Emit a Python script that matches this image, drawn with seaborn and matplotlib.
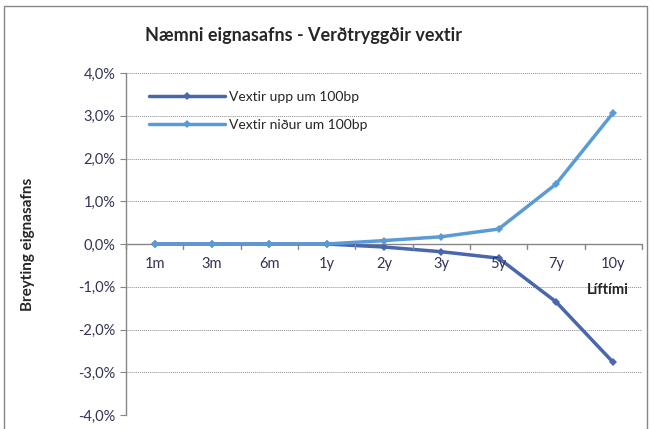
import pandas as pd
import matplotlib
matplotlib.use('Agg')
import matplotlib.pyplot as plt
import seaborn as sns
from matplotlib.ticker import FuncFormatter

categories = ['1m', '3m', '6m', '1y', '2y', '3y', '5y', '7y', '10y']
vextir_upp = [0.0, 0.0, 0.0, 0.0, -0.07, -0.18, -0.33, -1.35, -2.77]
vextir_nidur = [0.0, 0.0, 0.0, 0.0, 0.08, 0.17, 0.35, 1.40, 3.07]
series_names = ['Vextir upp um 100bp', 'Vextir niður um 100bp']

data = pd.DataFrame({
    'pos': list(range(len(categories))) * 2,
    'value': vextir_upp + vextir_nidur,
    'series': [series_names[0]] * len(categories) + [series_names[1]] * len(categories),
})

sns.set_style('white')
plt.rcParams['font.family'] = ['Lato', 'DejaVu Sans']

fig = plt.figure(figsize=(6.51, 4.29), dpi=100)
ax = fig.add_axes([0.1935, 0.0326, 0.7925, 0.7972])

sns.lineplot(data=data, x='pos', y='value', hue='series', palette=['#4A66AC', '#5B9BD5'],
             marker='D', markersize=4, markeredgewidth=0, linewidth=2.5, ax=ax)

ax.set_xlim(-0.5, len(categories) - 0.5)
ax.set_ylim(-4, 4)
ax.set_yticks([-4, -3, -2, -1, 0, 1, 2, 3, 4])
ax.yaxis.set_major_formatter(FuncFormatter(lambda v, p: f'{v:.1f}%'.replace('.', ',')))
ax.grid(axis='y', color='#8c8c8c', linestyle=(0, (1, 1)), linewidth=0.7)
ax.set_axisbelow(True)

for s in ['top', 'right', 'bottom']:
    ax.spines[s].set_visible(False)
ax.spines['left'].set_color('#868686')
ax.spines['left'].set_linewidth(1.0)
ax.axhline(0, color='#868686', linewidth=1.0, zorder=1)

# category boundary ticks on the zero line
ax.set_xticks([])
for b in range(len(categories) + 1):
    ax.plot([b - 0.5, b - 0.5], [0, -0.12], color='#868686', linewidth=1.0, clip_on=False)
for i, c in enumerate(categories):
    ax.text(i, -0.3, c, ha='center', va='top', fontsize=10.5, color='#333355')

ax.tick_params(axis='y', left=True, length=4, color='#868686', labelsize=10.5, labelcolor='#333355')
ax.set_xlabel('')
ax.set_ylabel('Breyting eignasafns', fontsize=11, fontweight='bold', labelpad=31)

ax.text(0.934, 0.365, 'Líftími', transform=ax.transAxes, ha='center', va='center',
        fontsize=10.5, fontweight='bold')

leg = ax.legend(loc='upper left', bbox_to_anchor=(0.02, 0.985), frameon=False, fontsize=10,
                handlelength=5.5, labelspacing=1.2, handletextpad=0.3)

fig.text(0.222, 0.905, 'Næmni eignasafns - Verðtryggðir vextir', fontsize=13, fontweight='bold')

border = plt.Rectangle((0.006, -0.05), 0.988, 1.035, transform=fig.transFigure, fill=False,
                       edgecolor='#868686', linewidth=1.0)
fig.patches.append(border)

fig.savefig('out.png', dpi=100)
